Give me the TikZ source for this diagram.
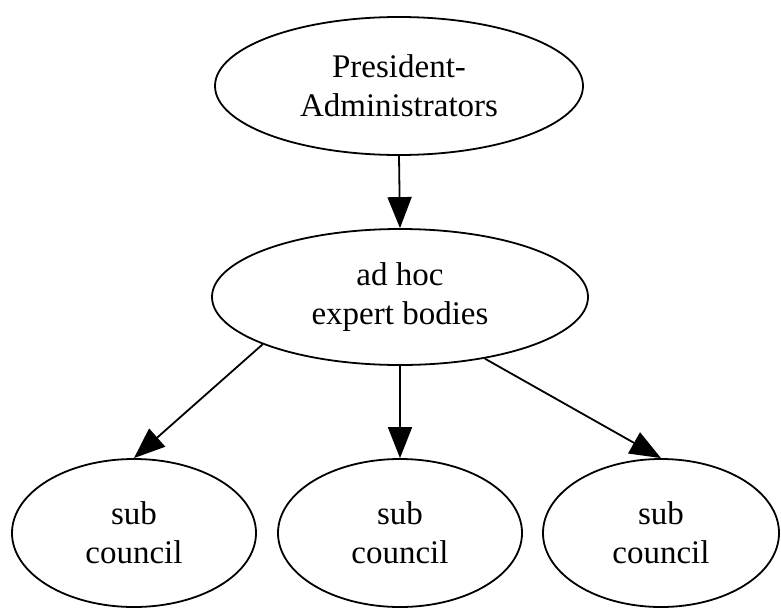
\documentclass[tikz,border=0pt]{standalone}
\usepackage{fontspec}
\setmainfont{Liberation Serif}
\usetikzlibrary{shapes.geometric,arrows.meta}
\tikzset{
  oval/.style={draw, ellipse, line width=1.8pt, inner sep=0pt, align=center,
    font=\fontsize{33}{39}\selectfont},
  link/.style={line width=1.8pt, -{Triangle[length=31pt,width=24pt]}}
}
\begin{document}
\begin{tikzpicture}[x=1pt,y=-1pt]
  \useasboundingbox (0,0) rectangle (781,608);
  \node[oval, minimum width=368pt, minimum height=138pt] (pres) at (399,86) {President-\\Administrators};
  \node[oval, minimum width=376pt, minimum height=136pt] (adhoc) at (400,297) {ad hoc\\expert bodies};
  \node[oval, minimum width=244pt, minimum height=148pt] (subA) at (134,533) {sub\\council};
  \node[oval, minimum width=244pt, minimum height=148pt] (subB) at (400,533) {sub\\council};
  \node[oval, minimum width=236pt, minimum height=148pt] (subC) at (661,533) {sub\\council};
  \draw[link] (pres.south) -- (adhoc.north);
  \draw[link] (adhoc.199) -- (subA.north);
  \draw[link] (adhoc.south) -- (subB.north);
  \draw[link] (adhoc.324) -- (subC.north);
\end{tikzpicture}
\end{document}
